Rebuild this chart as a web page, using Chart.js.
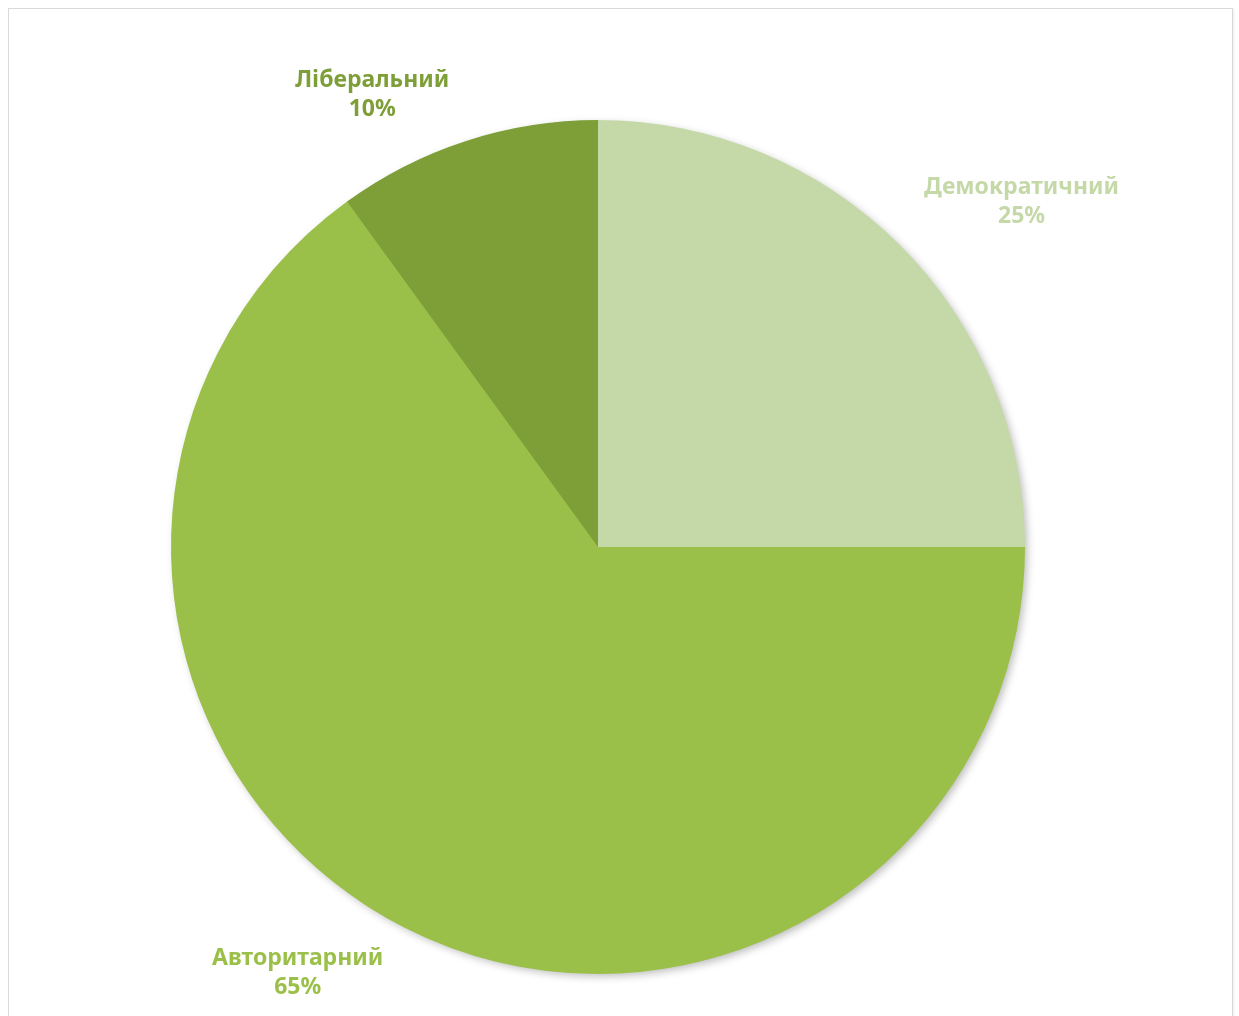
<!DOCTYPE html>
<html>
<head>
<meta charset="utf-8">
<script src="https://cdn.jsdelivr.net/npm/chart.js@4.4.1/dist/chart.umd.min.js"></script>
<style>
    html, body { margin: 0; padding: 0; background: #fff; overflow: hidden; }
    #frame {
        position: absolute; left: 8px; top: 8px; width: 1223px; height: 1100px;
        border: 1px solid #d9d9d9; box-shadow: 1px 1px 2px rgba(0,0,0,0.08);
    }
    #wrap { position: absolute; left: 0; top: 0; width: 1239px; height: 1016px; }
</style>
</head>
<body>
<div id="frame"></div>
<div id="wrap"><canvas id="pieChart"></canvas></div>
<script>
// Розподіл типів
var categories = ['Демократичний', 'Авторитарний', 'Ліберальний'];
var shares = [25, 65, 10];
var colors = ['#c5d9a8', '#9bc04a', '#7e9e38'];

// shadow behind the whole pie, drawn once before slices
var pieShadow = {
    id: 'pieShadow',
    beforeDatasetsDraw: function(chart) {
        var arc = chart.getDatasetMeta(0).data[0];
        if (!arc) return;
        var ctx = chart.ctx;
        ctx.save();
        ctx.shadowColor = 'rgba(0,0,0,0.28)';
        ctx.shadowBlur = 9;
        ctx.shadowOffsetX = 3;
        ctx.shadowOffsetY = 3;
        ctx.fillStyle = '#9bc04a';
        ctx.beginPath();
        ctx.arc(arc.x, arc.y, arc.outerRadius - 1, 0, Math.PI * 2);
        ctx.fill();
        ctx.restore();
    }
};

// category + percent labels outside the slices
var outsideLabels = {
    id: 'outsideLabels',
    afterDatasetsDraw: function(chart, args, opts) {
        var ctx = chart.ctx;
        var meta = chart.getDatasetMeta(0);
        ctx.save();
        ctx.font = 'bold 23px "Noto Sans", sans-serif';
        ctx.textAlign = 'center';
        ctx.textBaseline = 'middle';
        meta.data.forEach(function(arc, i) {
            var p = opts.placement[i];
            var mid = (arc.startAngle + arc.endAngle) / 2 + p.dAngle * Math.PI / 180;
            var r = arc.outerRadius * p.dist;
            var x = arc.x + Math.cos(mid) * r;
            var y = arc.y + Math.sin(mid) * r;
            ctx.fillStyle = colors[i];
            ctx.fillText(categories[i], x, y - 14);
            ctx.fillText(shares[i] + '%', x, y + 15);
        });
        ctx.restore();
    }
};

new Chart(document.getElementById('pieChart'), {
    type: 'pie',
    data: {
        labels: categories,
        datasets: [{
            data: shares,
            backgroundColor: colors,
            borderWidth: 0
        }]
    },
    options: {
        responsive: true,
        maintainAspectRatio: false,
        animation: false,
        layout: { padding: { left: 171, right: 214, top: 120, bottom: 42 } },
        plugins: {
            legend: { display: false },
            tooltip: { enabled: false },
            outsideLabels: {
                placement: [
                    { dAngle: 5.8, dist: 1.28 },
                    { dAngle: 8.2, dist: 1.22 },
                    { dAngle: -8.5, dist: 1.185 }
                ]
            }
        }
    },
    plugins: [pieShadow, outsideLabels]
});
</script>
</body>
</html>
